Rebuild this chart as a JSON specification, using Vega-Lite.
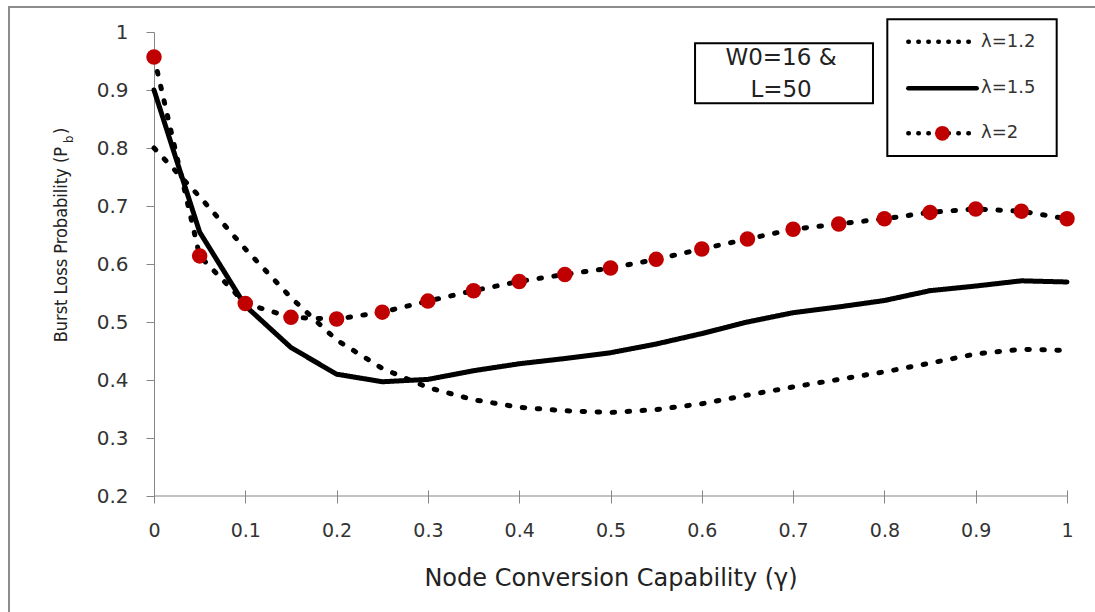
{
  "$schema": "https://vega.github.io/schema/vega-lite/v6.json",
  "width": 913,
  "height": 464,
  "autosize": {"type": "none"},
  "padding": {"left": 154, "top": 32, "right": 28, "bottom": 116},
  "background": "white",
  "config": {"view": {"stroke": null}},
  "datasets": {
    "curves": [
      {"g": 0, "series": "λ=1.2", "p": 0.8}, {"g": 0.05, "series": "λ=1.2", "p": 0.716}, {"g": 0.1, "series": "λ=1.2", "p": 0.626},
      {"g": 0.15, "series": "λ=1.2", "p": 0.542}, {"g": 0.2, "series": "λ=1.2", "p": 0.469}, {"g": 0.25, "series": "λ=1.2", "p": 0.42},
      {"g": 0.3, "series": "λ=1.2", "p": 0.387}, {"g": 0.35, "series": "λ=1.2", "p": 0.366}, {"g": 0.4, "series": "λ=1.2", "p": 0.353},
      {"g": 0.45, "series": "λ=1.2", "p": 0.347}, {"g": 0.5, "series": "λ=1.2", "p": 0.344}, {"g": 0.55, "series": "λ=1.2", "p": 0.349},
      {"g": 0.6, "series": "λ=1.2", "p": 0.359}, {"g": 0.65, "series": "λ=1.2", "p": 0.374}, {"g": 0.7, "series": "λ=1.2", "p": 0.388},
      {"g": 0.75, "series": "λ=1.2", "p": 0.401}, {"g": 0.8, "series": "λ=1.2", "p": 0.414}, {"g": 0.85, "series": "λ=1.2", "p": 0.429},
      {"g": 0.9, "series": "λ=1.2", "p": 0.445}, {"g": 0.95, "series": "λ=1.2", "p": 0.453}, {"g": 1, "series": "λ=1.2", "p": 0.451},
      {"g": 0, "series": "λ=1.5", "p": 0.9}, {"g": 0.05, "series": "λ=1.5", "p": 0.655}, {"g": 0.1, "series": "λ=1.5", "p": 0.528},
      {"g": 0.15, "series": "λ=1.5", "p": 0.456}, {"g": 0.2, "series": "λ=1.5", "p": 0.41}, {"g": 0.25, "series": "λ=1.5", "p": 0.397},
      {"g": 0.3, "series": "λ=1.5", "p": 0.401}, {"g": 0.35, "series": "λ=1.5", "p": 0.416}, {"g": 0.4, "series": "λ=1.5", "p": 0.428},
      {"g": 0.45, "series": "λ=1.5", "p": 0.437}, {"g": 0.5, "series": "λ=1.5", "p": 0.447}, {"g": 0.55, "series": "λ=1.5", "p": 0.462},
      {"g": 0.6, "series": "λ=1.5", "p": 0.48}, {"g": 0.65, "series": "λ=1.5", "p": 0.5}, {"g": 0.7, "series": "λ=1.5", "p": 0.516},
      {"g": 0.75, "series": "λ=1.5", "p": 0.526}, {"g": 0.8, "series": "λ=1.5", "p": 0.537}, {"g": 0.85, "series": "λ=1.5", "p": 0.554},
      {"g": 0.9, "series": "λ=1.5", "p": 0.562}, {"g": 0.95, "series": "λ=1.5", "p": 0.571}, {"g": 1, "series": "λ=1.5", "p": 0.569},
      {"g": 0, "series": "λ=2", "p": 0.957}, {"g": 0.05, "series": "λ=2", "p": 0.614}, {"g": 0.1, "series": "λ=2", "p": 0.532},
      {"g": 0.15, "series": "λ=2", "p": 0.508}, {"g": 0.2, "series": "λ=2", "p": 0.505}, {"g": 0.25, "series": "λ=2", "p": 0.517},
      {"g": 0.3, "series": "λ=2", "p": 0.536}, {"g": 0.35, "series": "λ=2", "p": 0.554}, {"g": 0.4, "series": "λ=2", "p": 0.57},
      {"g": 0.45, "series": "λ=2", "p": 0.582}, {"g": 0.5, "series": "λ=2", "p": 0.593}, {"g": 0.55, "series": "λ=2", "p": 0.608},
      {"g": 0.6, "series": "λ=2", "p": 0.626}, {"g": 0.65, "series": "λ=2", "p": 0.643}, {"g": 0.7, "series": "λ=2", "p": 0.66},
      {"g": 0.75, "series": "λ=2", "p": 0.669}, {"g": 0.8, "series": "λ=2", "p": 0.678}, {"g": 0.85, "series": "λ=2", "p": 0.689},
      {"g": 0.9, "series": "λ=2", "p": 0.695}, {"g": 0.95, "series": "λ=2", "p": 0.691}, {"g": 1, "series": "λ=2", "p": 0.678}
    ]
  },
  "layer": [
    {
      "data": {"values": [{}]},
      "mark": {"type": "rect", "fill": "transparent", "stroke": "#8c8c8c", "strokeWidth": 2},
      "encoding": {
        "x": {"datum": -0.1588, "type": "quantitative"},
        "x2": {"datum": 1.3},
        "y": {"datum": 1.0431, "type": "quantitative"},
        "y2": {"datum": -0.6}
      }
    },
    {
      "data": {"name": "curves"},
      "mark": {"type": "line", "color": "black", "strokeWidth": 5, "strokeCap": "round"},
      "encoding": {
        "x": {
          "field": "g", "type": "quantitative",
          "scale": {"domain": [0, 1], "nice": false, "zero": false},
          "axis": {
            "title": "Node Conversion Capability (γ)",
            "values": [0, 0.1, 0.2, 0.3, 0.4, 0.5, 0.6, 0.7, 0.8, 0.9, 1],
            "format": "~g", "grid": false, "domain": false, "offset": -6, "labelFlush": false,
            "tickSize": 13, "tickColor": "#868686", "tickWidth": 1,
            "labelFont": "DejaVu Sans", "labelFontSize": 19, "labelColor": "#333333", "labelPadding": 18,
            "titleFont": "DejaVu Sans", "titleFontSize": 24, "titleFontWeight": "normal", "titleColor": "#222222",
            "titleBaseline": "alphabetic", "titleY": 95
          }
        },
        "y": {
          "field": "p", "type": "quantitative",
          "scale": {"domain": [0.2, 1], "nice": false, "zero": false},
          "axis": {
            "title": null,
            "values": [0.2, 0.3, 0.4, 0.5, 0.6, 0.7, 0.8, 0.9, 1],
            "format": "~g", "grid": false, "domainColor": "#868686", "domainWidth": 1,
            "tickSize": 8, "tickColor": "#868686", "tickWidth": 1,
            "labelFont": "DejaVu Sans", "labelFontSize": 20, "labelColor": "#333333", "labelPadding": 18
          }
        },
        "strokeDash": {
          "field": "series", "type": "nominal",
          "scale": {"domain": ["λ=1.2", "λ=1.5", "λ=2"], "range": [[2.5, 12.5], [1, 0], [2.5, 12.5]]},
          "legend": null
        }
      }
    },
    {
      "data": {"name": "curves"},
      "transform": [{"filter": "datum.series === 'λ=2'"}],
      "mark": {"type": "point", "shape": "circle", "filled": true, "color": "#C00000", "opacity": 1, "size": 240},
      "encoding": {
        "x": {"field": "g", "type": "quantitative"},
        "y": {"field": "p", "type": "quantitative"}
      }
    },
    {
      "data": {"values": [{}]},
      "mark": {"type": "rect", "fill": "white", "stroke": "black", "strokeWidth": 2},
      "encoding": {
        "x": {"datum": 0.5926, "type": "quantitative"},
        "x2": {"datum": 0.7875},
        "y": {"datum": 0.9805, "type": "quantitative"},
        "y2": {"datum": 0.8771}
      }
    },
    {
      "data": {"values": [{}]},
      "mark": {"type": "text", "text": ["W0=16 &", "L=50"], "font": "DejaVu Sans", "fontSize": 23, "color": "#222222", "align": "center", "baseline": "middle", "lineHeight": 32},
      "encoding": {
        "x": {"datum": 0.6868, "type": "quantitative"},
        "y": {"datum": 0.9547, "type": "quantitative"}
      }
    },
    {
      "data": {"values": [{}]},
      "mark": {"type": "rect", "fill": "white", "stroke": "black", "strokeWidth": 2},
      "encoding": {
        "x": {"datum": 0.8032, "type": "quantitative"},
        "x2": {"datum": 0.9887},
        "y": {"datum": 1.0219, "type": "quantitative"},
        "y2": {"datum": 0.7862}
      }
    },
    {
      "data": {"values": [{}]},
      "mark": {"type": "rule", "color": "black", "strokeWidth": 4.5, "strokeCap": "round", "strokeDash": [0.5, 9.5]},
      "encoding": {
        "x": {"datum": 0.8262, "type": "quantitative"},
        "x2": {"datum": 0.8937},
        "y": {"datum": 0.9833, "type": "quantitative"}
      }
    },
    {
      "data": {"values": [{}]},
      "mark": {"type": "rule", "color": "black", "strokeWidth": 4.5, "strokeCap": "round"},
      "encoding": {
        "x": {"datum": 0.8262, "type": "quantitative"},
        "x2": {"datum": 0.9011},
        "y": {"datum": 0.9029, "type": "quantitative"}
      }
    },
    {
      "data": {"values": [{}]},
      "mark": {"type": "rule", "color": "black", "strokeWidth": 4.5, "strokeCap": "round", "strokeDash": [0.5, 9.5]},
      "encoding": {
        "x": {"datum": 0.8262, "type": "quantitative"},
        "x2": {"datum": 0.8937},
        "y": {"datum": 0.8253, "type": "quantitative"}
      }
    },
    {
      "data": {"values": [{}]},
      "mark": {"type": "point", "shape": "circle", "filled": true, "color": "#C00000", "opacity": 1, "size": 220},
      "encoding": {
        "x": {"datum": 0.8635, "type": "quantitative"},
        "y": {"datum": 0.8253, "type": "quantitative"}
      }
    },
    {
      "data": {"values": [{"label": "λ=1.2", "y": 0.9833}, {"label": "λ=1.5", "y": 0.9029}, {"label": "λ=2", "y": 0.8253}]},
      "mark": {"type": "text", "font": "DejaVu Sans", "fontSize": 18, "color": "#333333", "align": "left", "baseline": "middle"},
      "encoding": {
        "x": {"datum": 0.9058, "type": "quantitative"},
        "y": {"field": "y", "type": "quantitative"},
        "text": {"field": "label"}
      }
    },
    {
      "data": {"values": [{}]},
      "mark": {"type": "text", "text": "Burst Loss Probability (P", "font": "DejaVu Sans Condensed, Lato, sans-serif", "fontSize": 18, "color": "#222222", "align": "right", "baseline": "alphabetic", "angle": 270},
      "encoding": {
        "x": {"datum": -0.0953, "type": "quantitative"},
        "y": {"datum": 0.8017, "type": "quantitative"}
      }
    },
    {
      "data": {"values": [{}]},
      "mark": {"type": "text", "text": "b", "font": "DejaVu Sans Condensed, Lato, sans-serif", "fontSize": 13, "color": "#222222", "align": "left", "baseline": "alphabetic", "angle": 270},
      "encoding": {
        "x": {"datum": -0.0887, "type": "quantitative"},
        "y": {"datum": 0.8086, "type": "quantitative"}
      }
    },
    {
      "data": {"values": [{}]},
      "mark": {"type": "text", "text": ")", "font": "DejaVu Sans Condensed, Lato, sans-serif", "fontSize": 18, "color": "#222222", "align": "left", "baseline": "alphabetic", "angle": 270},
      "encoding": {
        "x": {"datum": -0.0953, "type": "quantitative"},
        "y": {"datum": 0.8241, "type": "quantitative"}
      }
    },
    {
      "data": {"values": [{}]},
      "mark": {"type": "rule", "color": "#868686", "strokeWidth": 1},
      "encoding": {
        "x": {"datum": 0, "type": "quantitative"},
        "x2": {"datum": 1},
        "y": {"datum": 0.2, "type": "quantitative"}
      }
    }
  ]
}
